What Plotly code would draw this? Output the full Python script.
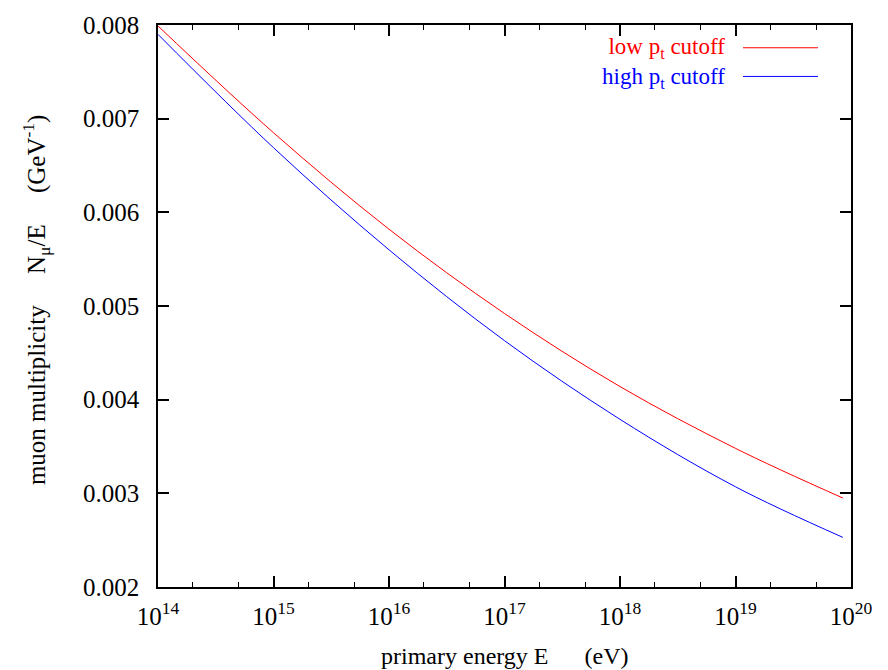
import plotly.graph_objects as go

# primary energy (eV) and muon multiplicity per unit energy (GeV^-1)
energy = [1e14, 1e15, 1e16, 1e17, 1e18, 1e19, 8.5e19]
low_pt = [0.00799, 0.00685, 0.00582, 0.00492, 0.00414, 0.00348, 0.00295]
high_pt = [0.00790, 0.00669, 0.00560, 0.00463, 0.00379, 0.00307, 0.00253]

x_ticks = [1e14, 1e15, 1e16, 1e17, 1e18, 1e19, 1e20]
x_tick_text = ["10<sup>%d</sup>" % e for e in range(14, 21)]
y_ticks = [0.002, 0.003, 0.004, 0.005, 0.006, 0.007, 0.008]
y_tick_text = ["%.3f" % v for v in y_ticks]

FONT = "Liberation Serif, Times New Roman, serif"

fig = go.Figure()
fig.add_trace(go.Scatter(x=energy, y=low_pt, mode="lines",
                         line=dict(color="#ff0000", width=1, shape="spline"),
                         showlegend=False))
fig.add_trace(go.Scatter(x=energy, y=high_pt, mode="lines",
                         line=dict(color="#0000ff", width=1, shape="spline"),
                         showlegend=False))

fig.update_layout(
    width=888, height=670,
    margin=dict(l=158, r=37, t=19, b=83),
    paper_bgcolor="white", plot_bgcolor="white",
    font=dict(family=FONT, size=24, color="black"),
    xaxis=dict(type="log", range=[14, 20], tickvals=x_ticks, ticktext=x_tick_text,
               ticks="inside", ticklen=11, tickwidth=1.5, tickcolor="black",
               showline=True, linecolor="black", linewidth=1.5, mirror="allticks",
               showgrid=False, zeroline=False, ticklabelstandoff=6,
               minor=dict(ticks="inside", ticklen=5, tickwidth=1.2, tickcolor="black",
                          showgrid=False),
               tickfont=dict(family=FONT, size=25, color="black")),
    yaxis=dict(range=[0.002, 0.008], tickvals=y_ticks, ticktext=y_tick_text,
               ticks="inside", ticklen=11, tickwidth=1.5, tickcolor="black",
               showline=True, linecolor="black", linewidth=1.5, mirror="allticks",
               showgrid=False, zeroline=False, ticklabelstandoff=12,
               tickfont=dict(family=FONT, size=25, color="black")),
)

nb = "\u00a0"
fig.add_annotation(text="primary energy E" + nb * 6 + "(eV)",
                   xref="paper", yref="paper", x=0.5, y=-0.123,
                   xanchor="center", yanchor="middle", showarrow=False,
                   font=dict(family=FONT, size=24))
fig.add_annotation(text="muon multiplicity" + nb * 5 + "N<sub>μ</sub>/E" + nb * 5
                   + "(GeV<sup>-1</sup>)",
                   xref="paper", yref="paper", x=-0.175, y=0.51,
                   xanchor="center", yanchor="middle", textangle=-90, showarrow=False,
                   font=dict(family=FONT, size=25))

# key: two right-aligned labels in one text block, each followed by a line sample
plot_h = 670 - 19 - 83
plot_w = 888 - 158 - 37
key_labels = ["<span style='color:#ff0000'>low p<sub>t</sub> cutoff</span>",
              "<span style='color:#0000ff'>high p<sub>t</sub> cutoff</span>"]
fig.add_annotation(text="<br>".join(key_labels), xref="paper", yref="paper",
                   x=(727 - 158) / plot_w, y=1 - (57 - 19) / plot_h,
                   xanchor="right", yanchor="middle", align="right",
                   showarrow=False, font=dict(family=FONT, size=23))
for color, ypix in [("#ff0000", 42), ("#0000ff", 71)]:
    yp = 1 - (ypix - 19) / plot_h
    fig.add_shape(type="line", xref="paper", yref="paper",
                  x0=(743 - 158) / plot_w, x1=(818 - 158) / plot_w, y0=yp, y1=yp,
                  line=dict(color=color, width=1))

fig.write_html("out.html")
